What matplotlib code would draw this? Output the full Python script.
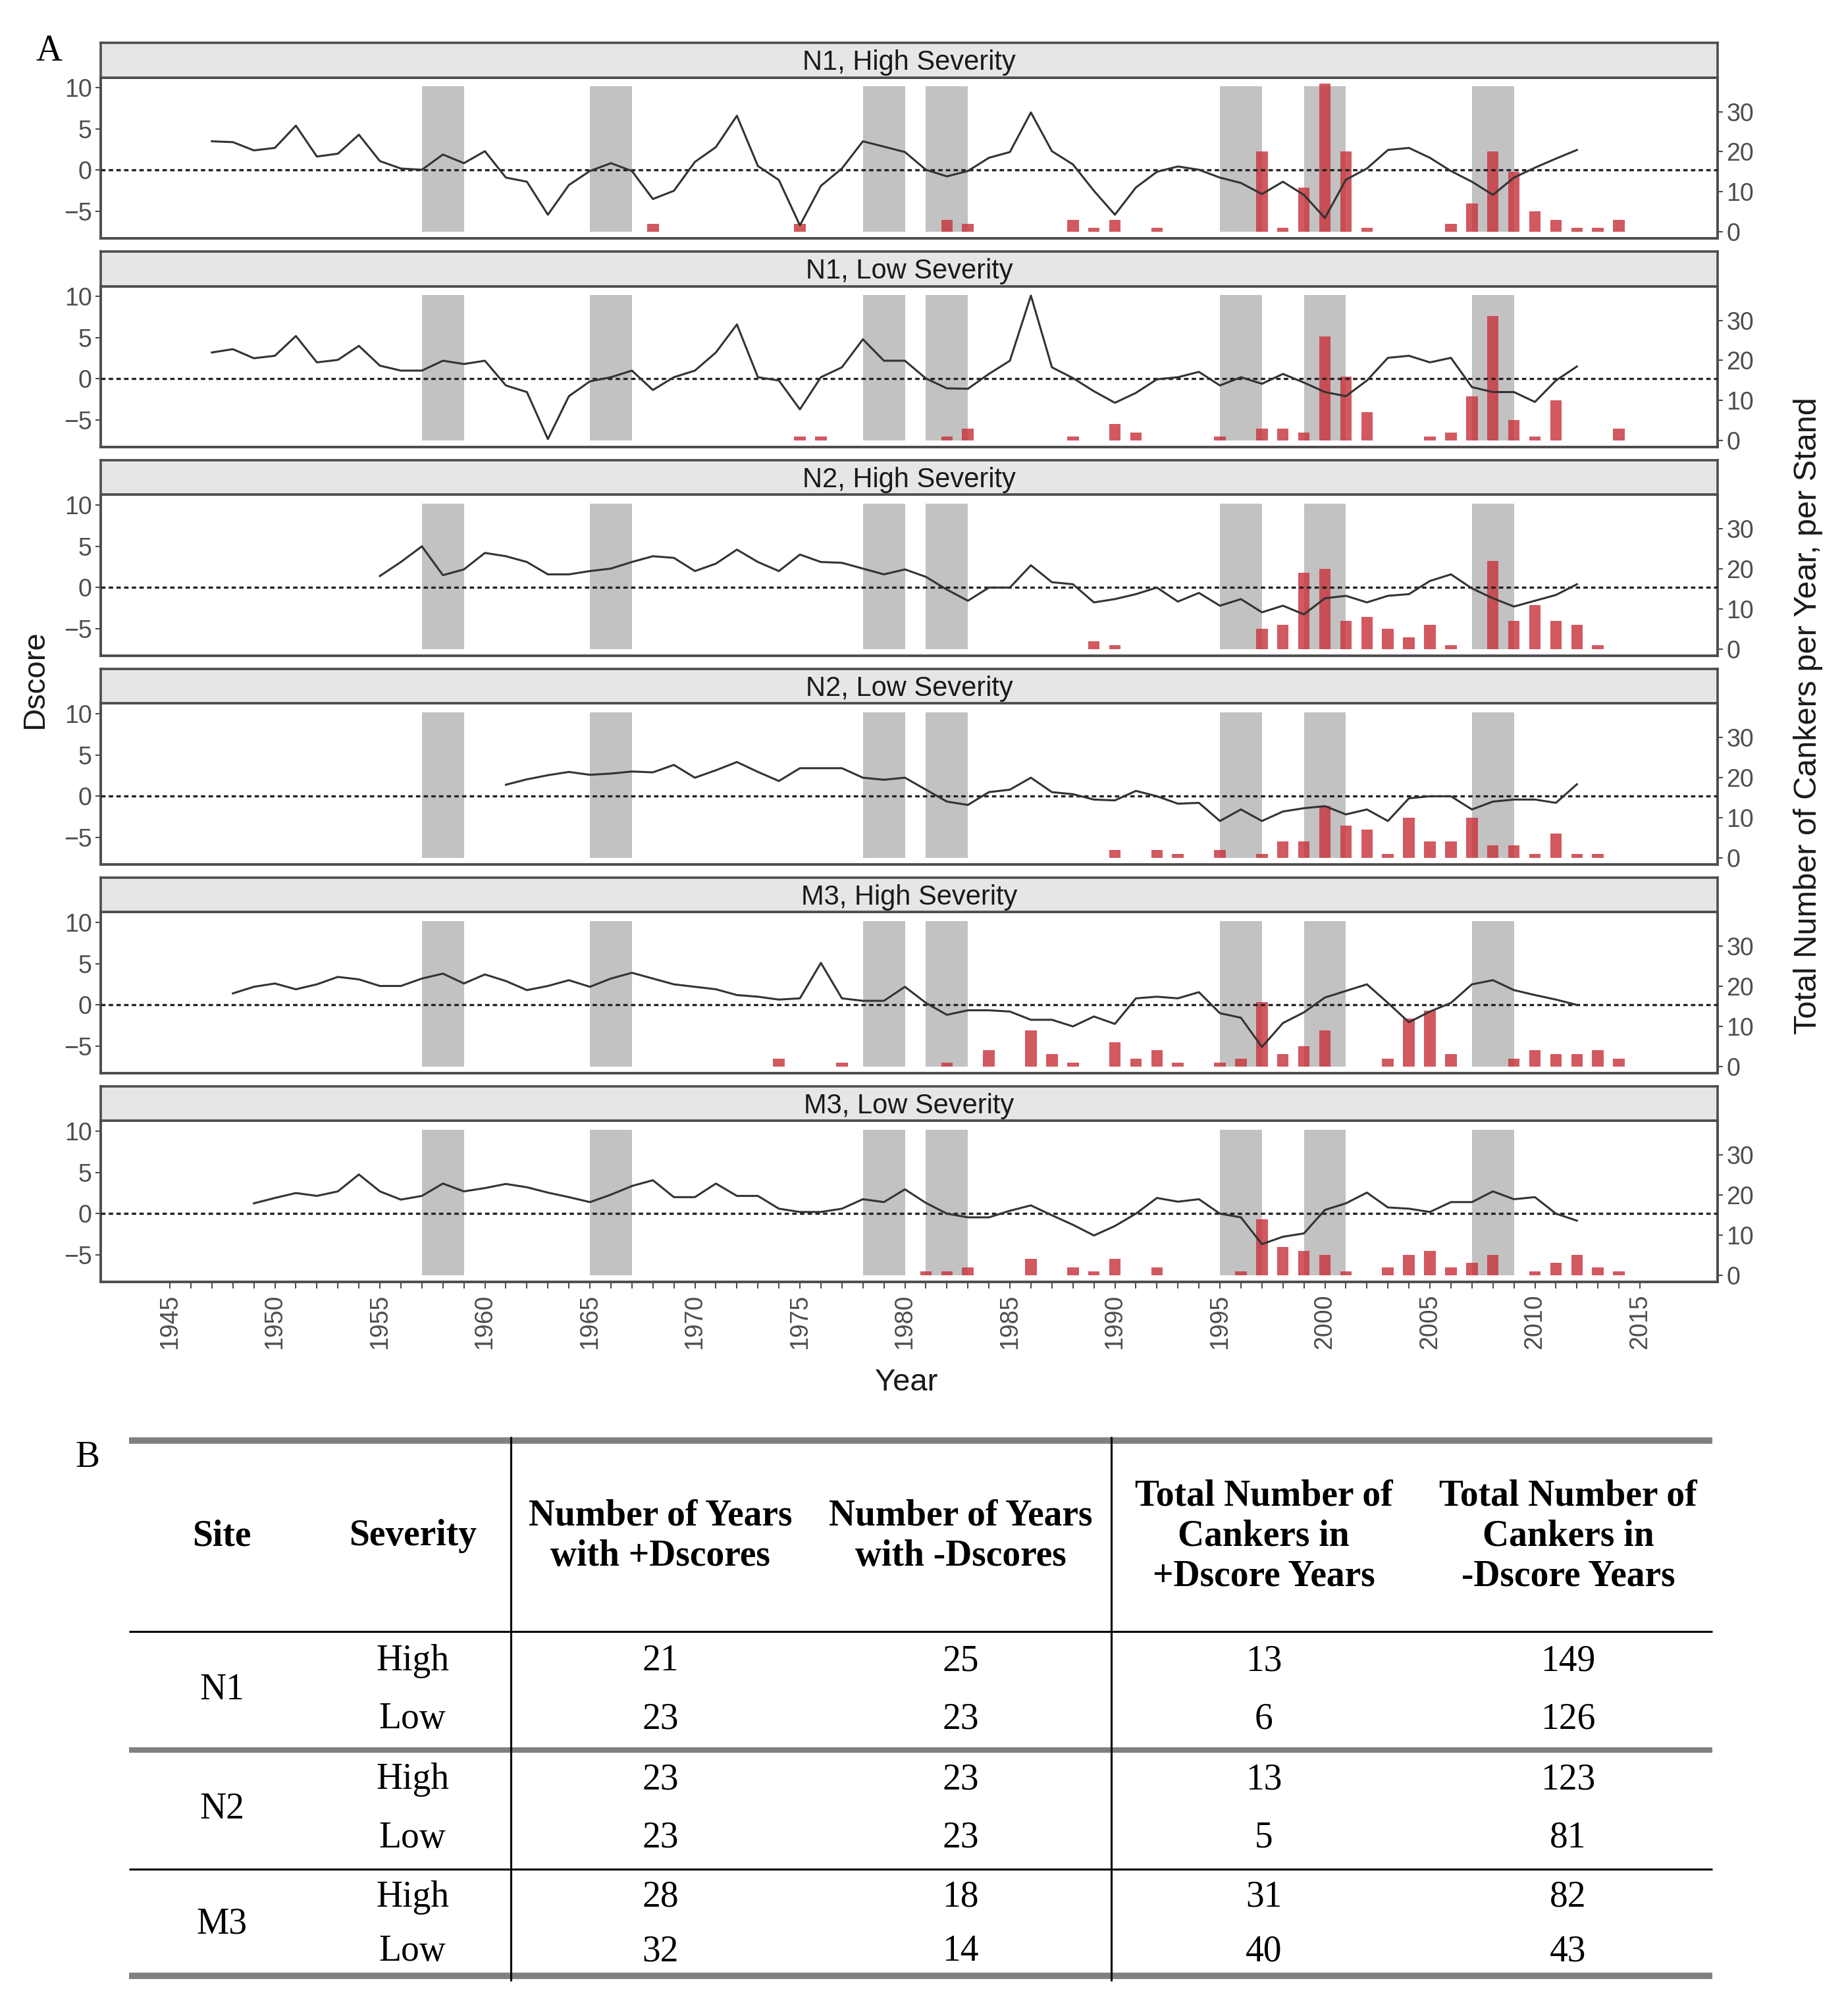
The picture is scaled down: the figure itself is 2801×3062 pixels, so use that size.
import numpy as np
import matplotlib.pyplot as plt

# Layout grid: reference measured on a 1430 x 1563 preview
W, H = 1430.0, 1563.0

def fx(x):
    return x / W

def fy(y):
    return 1 - y / H

# ---------------- Data ----------------
panel_titles = ['N1, High Severity', 'N1, Low Severity', 'N2, High Severity',
                'N2, Low Severity', 'M3, High Severity', 'M3, Low Severity']

# Dscore chronologies (first year, yearly values)
n1_high_start = 1947
n1_high_dscore = [3.5, 3.4, 2.4, 2.7, 5.4, 1.65, 2.0, 4.3, 1.1, 0.2,
                  0.05, 1.9, 0.85, 2.3, -0.9, -1.4, -5.4, -1.8, -0.1, 0.85,
                  -0.1, -3.5, -2.5, 1.0, 2.8, 6.6, 0.5, -1.2, -6.7, -1.9,
                  0.2, 3.5, 2.85, 2.2, 0.05, -0.75, -0.1, 1.5, 2.2, 7.0,
                  2.3, 0.7, -2.5, -5.4, -2.1, -0.2, 0.45, 0.05, -0.9, -1.55,
                  -2.9, -1.4, -3.0, -5.8, -1.15, 0.2, 2.45, 2.7, 1.5, -0.1,
                  -1.4, -3.0, -0.9, 0.3, 1.4, 2.45]
n1_low_start = 1947
n1_low_dscore = [3.2, 3.6, 2.5, 2.8, 5.2, 2.0, 2.3, 4.0, 1.6, 1.0,
                 1.0, 2.2, 1.8, 2.2, -0.8, -1.6, -7.3, -2.1, -0.3, 0.2,
                 1.0, -1.35, 0.2, 1.0, 3.2, 6.6, 0.2, -0.2, -3.7, 0.2,
                 1.4, 4.8, 2.2, 2.2, 0.05, -1.15, -1.2, 0.6, 2.2, 10.1,
                 1.4, 0.1, -1.5, -2.9, -1.7, -0.05, 0.2, 0.85, -0.8, 0.2,
                 -0.6, 0.6, -0.45, -1.6, -2.1, -0.2, 2.55, 2.8, 2.0, 2.55,
                 -1.0, -1.6, -1.6, -2.8, -0.2, 1.5]
n2_high_start = 1955
n2_high_dscore = [1.4, 3.1, 5.0, 1.5, 2.2, 4.2, 3.8, 3.1, 1.6, 1.6,
                  2.0, 2.3, 3.1, 3.8, 3.6, 2.0, 2.9, 4.6, 3.1, 2.0,
                  4.0, 3.1, 3.0, 2.3, 1.6, 2.2, 1.3, -0.25, -1.6, 0.0,
                  0.0, 2.7, 0.65, 0.4, -1.8, -1.4, -0.8, 0.0, -1.7, -0.65,
                  -2.2, -1.4, -3.0, -2.2, -3.25, -1.3, -1.0, -1.8, -1.0, -0.8,
                  0.8, 1.6, -0.1, -1.3, -2.3, -1.6, -0.9, 0.4]
n2_low_start = 1961
n2_low_dscore = [1.4, 2.05, 2.55, 2.95, 2.6, 2.75, 3.0, 2.9, 3.8, 2.25,
                 3.15, 4.15, 2.95, 1.85, 3.4, 3.4, 3.4, 2.25, 2.0, 2.25,
                 0.8, -0.65, -1.05, 0.5, 0.8, 2.25, 0.5, 0.25, -0.4, -0.5,
                 0.65, 0.0, -0.9, -0.8, -3.0, -1.6, -3.0, -1.85, -1.45, -1.2,
                 -2.2, -1.6, -3.0, -0.25, 0.0, 0.0, -1.6, -0.65, -0.4, -0.4,
                 -0.8, 1.45]
m3_high_start = 1948
m3_high_dscore = [1.4, 2.2, 2.6, 1.9, 2.5, 3.4, 3.1, 2.3, 2.3, 3.2,
                  3.8, 2.6, 3.7, 2.9, 1.8, 2.3, 3.0, 2.2, 3.2, 3.9,
                  3.2, 2.5, 2.2, 1.9, 1.2, 1.0, 0.65, 0.8, 5.1, 0.8,
                  0.5, 0.5, 2.2, 0.25, -1.2, -0.65, -0.65, -0.8, -1.8, -1.8,
                  -2.6, -1.4, -2.3, 0.8, 1.0, 0.8, 1.55, -1.0, -1.55, -5.1,
                  -2.2, -0.9, 0.9, 1.7, 2.5, 0.25, -2.1, -0.8, 0.25, 2.5,
                  3.0, 1.8, 1.2, 0.65, 0.0]
m3_low_start = 1949
m3_low_dscore = [1.25, 1.9, 2.5, 2.15, 2.7, 4.75, 2.7, 1.7, 2.15, 3.65,
                 2.7, 3.1, 3.6, 3.2, 2.55, 2.0, 1.4, 2.3, 3.35, 4.05,
                 2.0, 2.0, 3.65, 2.15, 2.15, 0.6, 0.2, 0.2, 0.6, 1.75,
                 1.4, 2.95, 1.3, 0.0, -0.45, -0.45, 0.35, 1.0, -0.2, -1.35,
                 -2.65, -1.5, 0.0, 1.9, 1.45, 1.75, 0.0, -0.45, -3.7, -2.8,
                 -2.4, 0.45, 1.25, 2.55, 0.75, 0.6, 0.2, 1.4, 1.4, 2.7,
                 1.75, 2.0, 0.0, -0.85]

# Cankers per year per stand
n1_high_years = [1968, 1975, 1982, 1983, 1988, 1989, 1990, 1992, 1997, 1998, 1999, 2000,
                 2001, 2002, 2006, 2007, 2008, 2009, 2010, 2011, 2012, 2013, 2014]
n1_high_cankers = [2, 2, 3, 2, 3, 1, 3, 1, 20, 1, 11, 37,
                   20, 1, 2, 7, 20, 15, 5, 3, 1, 1, 3]
n1_low_years = [1975, 1976, 1982, 1983, 1988, 1990, 1991, 1995, 1997, 1998, 1999, 2000,
                2001, 2002, 2005, 2006, 2007, 2008, 2009, 2010, 2011, 2014]
n1_low_cankers = [1, 1, 1, 3, 1, 4, 2, 1, 3, 3, 2, 26,
                  16, 7, 1, 2, 11, 31, 5, 1, 10, 3]
n2_high_years = [1989, 1990, 1997, 1998, 1999, 2000, 2001, 2002, 2003, 2004, 2005, 2006,
                 2008, 2009, 2010, 2011, 2012, 2013]
n2_high_cankers = [2, 1, 5, 6, 19, 20, 7, 8, 5, 3, 6, 1,
                   22, 7, 11, 7, 6, 1]
n2_low_years = [1990, 1992, 1993, 1995, 1997, 1998, 1999, 2000, 2001, 2002, 2003, 2004,
                2005, 2006, 2007, 2008, 2009, 2010, 2011, 2012, 2013]
n2_low_cankers = [2, 2, 1, 2, 1, 4, 4, 13, 8, 7, 1, 10,
                  4, 4, 10, 3, 3, 1, 6, 1, 1]
m3_high_years = [1974, 1977, 1982, 1984, 1986, 1987, 1988, 1990, 1991, 1992, 1993, 1995,
                 1996, 1997, 1998, 1999, 2000, 2003, 2004, 2005, 2006, 2009, 2010, 2011,
                 2012, 2013, 2014]
m3_high_cankers = [2, 1, 1, 4, 9, 3, 1, 6, 2, 4, 1, 1,
                   2, 16, 3, 5, 9, 2, 12, 14, 3, 2, 4, 3,
                   3, 4, 2]
m3_low_years = [1981, 1982, 1983, 1986, 1988, 1989, 1990, 1992, 1996, 1997, 1998, 1999,
                2000, 2001, 2003, 2004, 2005, 2006, 2007, 2008, 2010, 2011, 2012, 2013,
                2014]
m3_low_cankers = [1, 1, 2, 4, 2, 1, 4, 2, 1, 14, 7, 6,
                  5, 1, 2, 5, 6, 2, 3, 5, 1, 3, 5, 2,
                  1]

# Shaded periods (start, end year)
band_start = [1957, 1965, 1978, 1981, 1995, 1999, 2007]
band_end = [1959, 1967, 1980, 1983, 1997, 2001, 2009]

# Table B
sites = ['N1', 'N2', 'M3']
severity = ['High', 'Low', 'High', 'Low', 'High', 'Low']
pos_years = [21, 23, 23, 23, 28, 32]
neg_years = [25, 23, 23, 23, 18, 14]
pos_cankers = [13, 6, 13, 5, 31, 40]
neg_cankers = [149, 126, 123, 81, 82, 43]

starts = [n1_high_start, n1_low_start, n2_high_start, n2_low_start, m3_high_start, m3_low_start]
dscores = [n1_high_dscore, n1_low_dscore, n2_high_dscore, n2_low_dscore, m3_high_dscore, m3_low_dscore]
bar_years = [n1_high_years, n1_low_years, n2_high_years, n2_low_years, m3_high_years, m3_low_years]
cankers = [n1_high_cankers, n1_low_cankers, n2_high_cankers, n2_low_cankers, m3_high_cankers, m3_low_cankers]

# ---------------- Figure ----------------
plt.rcParams['font.family'] = ['Liberation Sans', 'DejaVu Sans']
fig = plt.figure(figsize=(28.01, 30.62), dpi=100)

frame_col = '#4d4d4d'
tick_col = '#4d4d4d'
ylo, yhi = -8.3, 11.25
band_lo, band_hi = -7.45, 10.2
# secondary axis: count 0 sits at Dscore -7.45, 10 cankers ~ 4.85 Dscore units
c0, ck = -7.45, 0.485

for i in range(6):
    top = 60 + i * 161.8
    bot = 185 + i * 161.8
    ax2 = fig.add_axes([fx(78), fy(bot), fx(1332) - fx(78), fy(top) - fy(bot)])
    ax = ax2.twinx()
    ax.yaxis.tick_left()
    ax2.yaxis.tick_right()

    # shaded bands and bars on the count axis
    for s, e in zip(band_start, band_end):
        ax2.axvspan(s, e, ymin=(band_lo - ylo) / (yhi - ylo), ymax=(band_hi - ylo) / (yhi - ylo),
                    color='#c2c2c2', lw=0, zorder=1)
    ax2.bar(bar_years[i], cankers[i], width=0.55, color='#c9353d', alpha=0.82, zorder=2)
    ax2.set_ylim((ylo - c0) / ck, (yhi - c0) / ck)
    ax2.set_yticks([0, 10, 20, 30])

    # Dscore line on top
    yrs = np.arange(starts[i], starts[i] + len(dscores[i]))
    ax.axhline(0, color='#222222', lw=2.4, ls=(0, (2.0, 1.5)), zorder=3)
    ax.plot(yrs, dscores[i], color='#333333', lw=2.2, zorder=4)
    ax.set_ylim(ylo, yhi)
    ax.set_yticks([-5, 0, 5, 10])
    ax2.set_xlim(1941.7, 2018.7)

    for a in (ax, ax2):
        for sp in a.spines.values():
            sp.set_color(frame_col)
            sp.set_linewidth(2.6)
        a.tick_params(axis='y', labelsize=27, colors=tick_col, length=6, width=1.5)

    if i < 5:
        ax2.set_xticks([])
    else:
        ax2.set_xticks(np.arange(1945, 2016, 5))
        ax2.set_xticks(np.arange(1945, 2016, 1), minor=True)
        ax2.tick_params(axis='x', which='both', length=7, width=1.5, color=tick_col,
                        labelsize=27, labelcolor=tick_col, labelrotation=90, pad=6)

    # strip
    st = fig.add_axes([fx(78), fy(top), fx(1332) - fx(78), fy(33 + i * 161.8) - fy(top)])
    st.set_facecolor('#e6e6e6')
    st.set_xticks([])
    st.set_yticks([])
    for sp in st.spines.values():
        sp.set_color(frame_col)
        sp.set_linewidth(2.6)
    st.text(0.5, 0.42, panel_titles[i], ha='center', va='center', fontsize=30,
            color='#1a1a1a', transform=st.transAxes)

fig.text(fx(27), fy(527), 'Dscore', rotation=90, ha='center', va='center', fontsize=34, color='#1a1a1a')
fig.text(fx(703), fy(1072), 'Year', ha='center', va='center', fontsize=34, color='#1a1a1a')
fig.text(fx(1402), fy(555), 'Total Number of Cankers per Year, per Stand', rotation=90,
         ha='center', va='center', fontsize=35, color='#1a1a1a')
fig.text(fx(38), fy(40), 'A', ha='center', va='center', fontsize=40, family='Liberation Serif')
fig.text(fx(68), fy(1130), 'B', ha='center', va='center', fontsize=40, family='Liberation Serif')

# ---------------- Table B ----------------
tab = fig.add_axes([0, 0, 1, 1], zorder=-1)
tab.set_xlim(0, W)
tab.set_ylim(H, 0)
tab.axis('off')

gray = '#808080'
tab.plot([100, 1328], [1117, 1117], color=gray, lw=7, solid_capstyle='butt')
tab.plot([100, 1328], [1265, 1265], color='black', lw=2.2, solid_capstyle='butt')
tab.plot([100, 1328], [1357, 1357], color=gray, lw=6, solid_capstyle='butt')
tab.plot([100, 1328], [1449, 1449], color='black', lw=2.2, solid_capstyle='butt')
tab.plot([100, 1328], [1532, 1532], color=gray, lw=7, solid_capstyle='butt')
for xv in [396, 862]:
    tab.plot([xv, xv], [1114, 1536], color='black', lw=2.2, solid_capstyle='butt')

serif = 'Liberation Serif'
col_x = [172, 320, 512, 745, 980, 1216]
headers = ['Site', 'Severity', 'Number of Years\nwith +Dscores', 'Number of Years\nwith -Dscores',
           'Total Number of\nCankers in\n+Dscore Years', 'Total Number of\nCankers in\n-Dscore Years']
for x, h in zip(col_x, headers):
    tab.text(x, 1191, h, ha='center', va='center', fontsize=40, fontweight='bold',
             family=serif, linespacing=1.22)

row_y = [1288, 1333, 1380, 1425, 1471, 1513]
for k, s in enumerate(sites):
    tab.text(col_x[0], (row_y[2 * k] + row_y[2 * k + 1]) / 2, s, ha='center', va='center',
             fontsize=40, family=serif)
for k in range(6):
    vals = [severity[k], pos_years[k], neg_years[k], pos_cankers[k], neg_cankers[k]]
    for x, v in zip(col_x[1:], vals):
        tab.text(x, row_y[k], str(v), ha='center', va='center', fontsize=40, family=serif)

fig.savefig('out.png', dpi=100)
